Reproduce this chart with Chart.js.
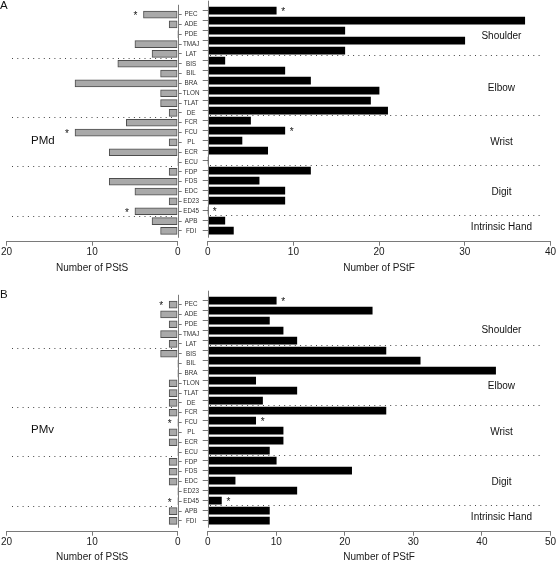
<!DOCTYPE html>
<html lang="en">
<head>
<meta charset="UTF-8">
<title>PStS / PStF by muscle</title>
<script src="https://cdn.jsdelivr.net/npm/chart.js@4.4.1/dist/chart.umd.min.js"></script>
<style>
  html, body { margin: 0; padding: 0; background: #fff; overflow: hidden; }
  #wrap { position: relative; width: 557px; height: 561px; overflow: hidden; font-family: "Liberation Sans", Arial, sans-serif; color: #111; }
  #wrap canvas { position: absolute; }
  .txt { position: absolute; line-height: 14px; white-space: nowrap; }
</style>
</head>
<body>
<div id="wrap">
  <canvas id="aLeft" width="208" height="280" style="left:0;top:0"></canvas>
  <canvas id="aRight" width="377" height="280" style="left:180px;top:0"></canvas>
  <canvas id="bLeft" width="208" height="280" style="left:0;top:290px"></canvas>
  <canvas id="bRight" width="377" height="280" style="left:180px;top:290px"></canvas>
  <div class="txt" style="left:0;top:-2px;font-size:11.5px">A</div>
  <div class="txt" style="left:0;top:287px;font-size:11.5px">B</div>
  <div class="txt" style="left:31px;top:133px;font-size:11.5px">PMd</div>
  <div class="txt" style="left:31px;top:422px;font-size:11.5px">PMv</div>
</div>

<script>
  const muscles = ['PEC', 'ADE', 'PDE', 'TMAJ', 'LAT', 'BIS', 'BIL', 'BRA', 'TLON', 'TLAT', 'DE',
                   'FCR', 'FCU', 'PL', 'ECR', 'ECU', 'FDP', 'FDS', 'EDC', 'ED23', 'ED45', 'APB', 'FDI'];
  const groups = ['Shoulder', 'Elbow', 'Wrist', 'Digit', 'Intrinsic Hand'];
  const groupLast = ['LAT', 'DE', 'ECU', 'ED45'];   // dotted line drawn below these

  // Panel A - PMd
  const pmdStS = [4, 1, 0, 5, 3, 7, 2, 12, 2, 2, 1, 6, 12, 1, 8, 0, 1, 8, 5, 1, 5, 3, 2];
  const pmdStF = [8, 37, 16, 30, 16, 2, 9, 12, 20, 19, 21, 5, 9, 4, 7, 0, 12, 6, 9, 9, 0, 2, 3];
  const pmdStarred = ['PEC', 'FCU', 'ED45'];

  // Panel B - PMv
  const pmvStS = [1, 2, 1, 2, 1, 2, 0, 0, 1, 1, 1, 1, 0, 1, 1, 0, 1, 1, 1, 0, 0, 1, 1];
  const pmvStF = [10, 24, 9, 11, 13, 26, 31, 42, 7, 13, 8, 26, 7, 11, 11, 9, 10, 21, 4, 13, 2, 9, 9];
  const pmvStarred = ['PEC', 'FCU', 'ED45'];

  const AXIS = '#7a7a7a';
  const FONT = '"Liberation Sans", Arial, sans-serif';
  Chart.defaults.font.family = FONT;
  Chart.defaults.color = '#1a1a1a';

  // dotted separators, detached vertical axis, stars, group names
  function decor(o) {
    return {
      id: 'decor',
      beforeDatasetsDraw(chart) {
        const { ctx, scales: { y } } = chart;
        ctx.save();
        ctx.strokeStyle = '#444';
        ctx.lineWidth = 1;
        ctx.setLineDash([1, 4.3]);
        groupLast.forEach(m => {
          const py = Math.round(y.getPixelForValue(muscles.indexOf(m) + 0.45)) + 0.5;
          ctx.beginPath();
          ctx.moveTo(o.lineFrom, py);
          ctx.lineTo(o.lineTo, py);
          ctx.stroke();
        });
        ctx.restore();
      },
      afterDraw(chart) {
        const { ctx, chartArea: a, scales: { x, y } } = chart;
        ctx.save();
        const px = Math.round(x.getPixelForValue(0)) + 0.5;
        ctx.strokeStyle = AXIS;
        ctx.lineWidth = 1;
        ctx.beginPath();
        ctx.moveTo(px, y.getPixelForValue(-1));
        ctx.lineTo(px, y.getPixelForValue(22.7));
        ctx.stroke();

        ctx.fillStyle = '#111';
        ctx.font = '10px ' + FONT;
        ctx.textAlign = 'center';
        ctx.textBaseline = 'middle';
        o.stars.forEach(m => {
          const i = muscles.indexOf(m);
          ctx.fillText('*', x.getPixelForValue(o.values[i]) + o.starGap, y.getPixelForValue(i) + 2);
        });

        if (o.groupY) {
          ctx.font = '10px ' + FONT;
          groups.forEach((g, k) => {
            ctx.fillText(g, a.right - 49, y.getPixelForValue(o.groupY[k]));
          });
        }
        ctx.restore();
      }
    };
  }

  function sideChart(id, side, values, xMax, stars, titlePad, groupY) {
    const left = side === 'left';
    return new Chart(document.getElementById(id), {
      type: 'bar',
      data: {
        datasets: [{
          data: values.map((v, i) => ({ x: v, y: i })),
          backgroundColor: left ? '#a9a9a9' : '#000',
          borderColor: '#4d4d4d',
          borderWidth: ctx => (left && ctx.raw && ctx.raw.x > 0) ? 1 : 0,
          borderSkipped: false,
          barThickness: 7
        }]
      },
      options: {
        indexAxis: 'y',
        responsive: false,
        animation: false,
        layout: { padding: { top: 0.7, bottom: 0, left: left ? 5 : 0, right: left ? 0 : 6.3 } },
        plugins: { legend: { display: false }, tooltip: { enabled: false } },
        scales: {
          x: {
            type: 'linear',
            position: 'bottom',
            min: 0,
            max: xMax,
            reverse: left,
            ticks: { stepSize: 10, font: { size: 10 }, padding: 1, maxRotation: 0 },
            grid: { drawOnChartArea: false, tickLength: 4, color: AXIS },
            border: { color: AXIS },
            title: {
              display: true,
              text: left ? 'Number of PStS' : 'Number of PStF',
              font: { size: 10 },
              padding: { top: 0, bottom: titlePad }
            },
            afterFit: s => { s.height = 38.3; }
          },
          y: {
            type: 'linear',
            position: left ? 'right' : 'left',
            reverse: true,
            offset: false,
            min: -1,
            max: 23.1,
            afterBuildTicks: s => { s.ticks = muscles.map((m, i) => ({ value: i })); },
            ticks: {
              display: left,
              autoSkip: false,
              callback: v => muscles[v],
              font: { size: 6.3 },
              color: '#333',
              padding: 1,
              crossAlign: 'center'
            },
            grid: { offset: false, drawOnChartArea: false, tickLength: left ? 4 : 5, color: AXIS },
            border: { display: false },
            afterFit: s => { s.width = left ? 30.3 : 27.7; }
          }
        }
      },
      plugins: [decor({
        lineFrom: left ? 12 : 30,
        lineTo: left ? 175 : 361,
        stars: stars,
        values: values,
        starGap: left ? -8 : 7,
        groupY: groupY
      })]
    });
  }

  sideChart('aLeft', 'left', pmdStS, 20, pmdStarred, 6);
  sideChart('aRight', 'right', pmdStF, 40, pmdStarred, 6, [2.6, 7.8, 13.2, 18.2, 21.7]);
  sideChart('bLeft', 'left', pmvStS, 20, pmvStarred, 7);
  sideChart('bRight', 'right', pmvStF, 50, pmvStarred, 7, [3.0, 8.6, 13.2, 18.2, 21.7]);
</script>
</body>
</html>
